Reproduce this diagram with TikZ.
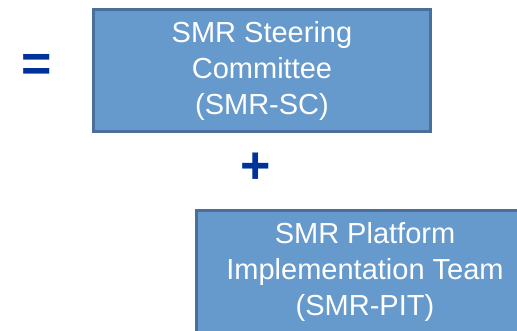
\documentclass[tikz,border=0pt]{standalone}
\usepackage{fontspec}
\setmainfont{Liberation Sans}
\usetikzlibrary{positioning}
\definecolor{boxfill}{HTML}{6699CC}
\definecolor{boxline}{HTML}{4A6F9C}
\definecolor{signblue}{HTML}{003399}
\begin{document}
\begin{tikzpicture}[x=1pt, y=-1pt,
        box/.style={draw=boxline, line width=2.6pt, fill=boxfill, text=white,
            minimum width=337pt, minimum height=122pt, align=center, inner sep=0pt,
            font=\fontsize{29}{36}\selectfont},
        sign/.style={text=signblue, inner sep=0pt, font=\fontsize{52}{52}\selectfont\bfseries}
    ]
    \useasboundingbox (0,0) rectangle (517,331);
    % Nodes
    \node[box] (sc) at (262,70.5) {SMR Steering \\ Committee \\ (SMR-SC)};
    \node[box] (pit) at (365,271.5) {SMR Platform \\ Implementation Team \\ (SMR-PIT)};
    \node[sign] (eq) at (37,68) {=};
    \node[sign] (plus) at (256,168) {+};
\end{tikzpicture}
\end{document}
